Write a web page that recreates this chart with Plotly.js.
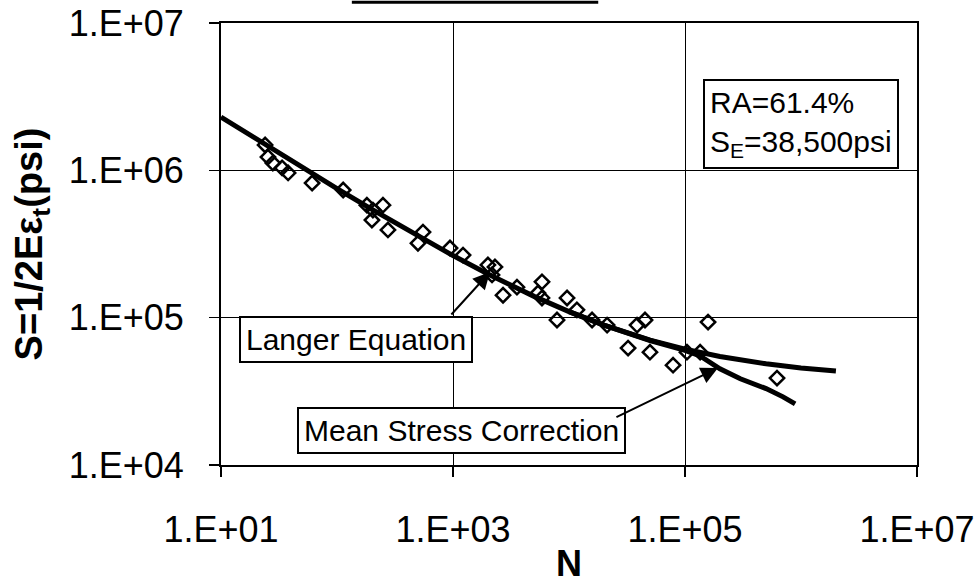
<!DOCTYPE html>
<html>
<head>
<meta charset="utf-8">
<script src="https://cdn.plot.ly/plotly-3.0.1.min.js"></script>
<style>html,body{margin:0;padding:0;background:#fff;}#chart{width:979px;height:584px;}</style>
</head>
<body>
<div id="chart"></div>
<script>
// Test data (open diamonds): cycles N and stress S (psi)
const testN = [24, 25.4, 28, 33.6, 37.9, 61, 113, 181, 204, 249, 200, 275, 551, 499, 942, 1220, 2000, 2300, 2170, 3560, 2700, 5850, 5400, 5850, 9620, 11700, 7880, 15800, 21300, 38600, 45200, 32300, 49900, 78900, 104000, 135000, 158000, 621000];
const testS = [1486000, 1230000, 1120000, 1040000, 960000, 820000, 735000, 580000, 537000, 580000, 460000, 394000, 381000, 320000, 297000, 266000, 228000, 221000, 195000, 161000, 142000, 175000, 147000, 136000, 136000, 113000, 96400, 96400, 89000, 89000, 96400, 62200, 58300, 47600, 58300, 58300, 93300, 38900];

// Langer equation curve
const langerN = [10, 20, 50, 100, 200, 500, 1000, 2000, 5000, 10000, 20000, 50000, 100000, 200000, 500000, 1000000, 2000000];
const langerS = [2300000, 1635000, 1048000, 752000, 543000, 358000, 264000, 198000, 139500, 110000, 89000, 70400, 61100, 54500, 48600, 45600, 43500];

// Mean stress correction curve
const msN = [10000, 20000, 50000, 100000, 135000, 200000, 300000, 500000, 700000, 890000];
const msS = [110000, 89000, 70000, 60000, 55000, 45000, 38500, 33000, 29000, 26000];

// Tick labels
const xTickVals = [10, 1000, 100000, 10000000];
const xTickText = ["1.E+01", "1.E+03", "1.E+05", "1.E+07"];
const yTickVals = [10000, 100000, 1000000, 10000000];
const yTickText = ["1.E+04", "1.E+05", "1.E+06", "1.E+07"];

const FONT = "Liberation Sans, Arial, Helvetica, sans-serif";

const traces = [
  {x: langerN, y: langerS, mode: "lines", type: "scatter", line: {color: "#000", width: 5}, hoverinfo: "skip"},
  {x: msN, y: msS, mode: "lines", type: "scatter", line: {color: "#000", width: 5}, hoverinfo: "skip"},
  {x: testN, y: testS, mode: "markers", type: "scatter",
   marker: {symbol: "diamond-open", size: 11, color: "#000", line: {color: "#000", width: 2.5}}}
];

const layout = {
  width: 979, height: 584,
  margin: {l: 221, r: 62, t: 23, b: 119},
  paper_bgcolor: "#fff", plot_bgcolor: "#fff",
  showlegend: false,
  font: {family: FONT, color: "#000"},
  xaxis: {
    type: "log", range: [1, 7], tickmode: "array", tickvals: xTickVals, ticktext: xTickText,
    tickfont: {size: 36, family: FONT, color: "#000"},
    ticks: "outside", ticklen: 10, tickwidth: 1.5, tickcolor: "#000",
    showgrid: true, gridcolor: "#000", gridwidth: 1,
    showline: true, linecolor: "#000", linewidth: 2, mirror: true,
    zeroline: false, ticklabelstandoff: 22,
    title: {text: "<b>N</b>", font: {size: 36, family: FONT, color: "#000"}, standoff: 4}
  },
  yaxis: {
    type: "log", range: [4, 7], tickmode: "array", tickvals: yTickVals, ticktext: yTickText,
    tickfont: {size: 36, family: FONT, color: "#000"},
    ticks: "outside", ticklen: 10, tickwidth: 1.5, tickcolor: "#000",
    showgrid: true, gridcolor: "#000", gridwidth: 1,
    showline: true, linecolor: "#000", linewidth: 2, mirror: true,
    zeroline: false, ticklabelstandoff: 18,
    title: {text: "<b>S=1/2Eε<sub>t</sub>(psi)</b>", font: {size: 38, family: FONT, color: "#000"}, standoff: 14}
  },
  shapes: [
    {type: "line", xref: "paper", yref: "paper", x0: 0.188, x1: 0.542, y0: 1.047, y1: 1.047, line: {color: "#000", width: 3}}
  ],
  annotations: [
    {xref: "paper", yref: "paper", x: 0.833, y: 0.7715, xanchor: "center", yanchor: "middle",
     text: "RA=61.4%<br>S<sub>E</sub>=38,500psi", align: "left", showarrow: false,
     font: {size: 30, family: FONT, color: "#000"}, bordercolor: "#000", borderwidth: 2, borderpad: 5, bgcolor: "#fff"},
    {xref: "paper", yref: "paper", x: 0.194, y: 0.283, xanchor: "center", yanchor: "middle",
     text: "Langer Equation", showarrow: false,
     font: {size: 30, family: FONT, color: "#000"}, bordercolor: "#000", borderwidth: 2, borderpad: 5, bgcolor: "#fff"},
    {xref: "paper", yref: "paper", x: 0.346, y: 0.079, xanchor: "center", yanchor: "middle",
     text: "Mean Stress Correction", showarrow: false,
     font: {size: 30, family: FONT, color: "#000"}, bordercolor: "#000", borderwidth: 2, borderpad: 5, bgcolor: "#fff"},
    {xref: "x", yref: "y", x: 3.319, y: 5.31, text: "", showarrow: true, axref: "pixel", ayref: "pixel",
     ax: -40, ay: 44, arrowhead: 2, arrowsize: 1.7, arrowwidth: 2, arrowcolor: "#000"},
    {xref: "x", yref: "y", x: 5.284, y: 4.659, text: "", showarrow: true, axref: "pixel", ayref: "pixel",
     ax: -103, ay: 50, arrowhead: 2, arrowsize: 1.7, arrowwidth: 2, arrowcolor: "#000"}
  ]
};

Plotly.newPlot("chart", traces, layout, {displayModeBar: false, staticPlot: true});
</script>
</body>
</html>
